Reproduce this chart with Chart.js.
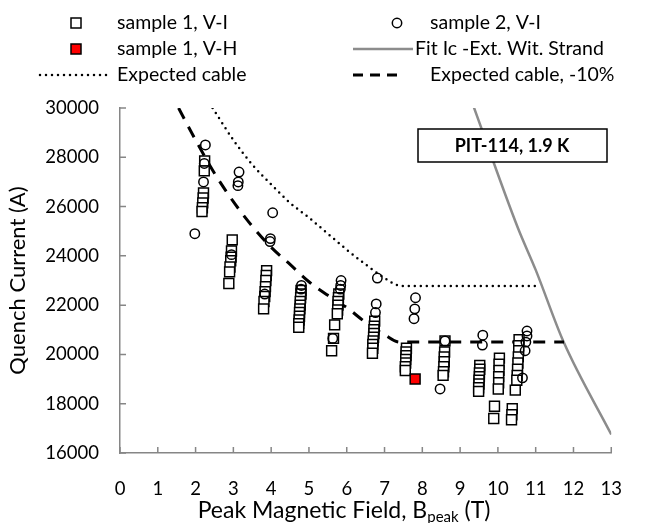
<!DOCTYPE html>
<html>
<head>
<meta charset="utf-8">
<script src="https://cdn.jsdelivr.net/npm/chart.js@4.4.1/dist/chart.umd.min.js"></script>
<style>
  html, body { margin: 0; padding: 0; background: #fff; }
  #wrap { width: 647px; height: 523px; }
</style>
</head>
<body>
<div id="wrap"><canvas id="quench" width="647" height="523"></canvas></div>
<script>
// Quench current vs peak field, PIT-114 at 1.9 K

const xTickValues = [0, 1, 2, 3, 4, 5, 6, 7, 8, 9, 10, 11, 12, 13];
const yTickValues = [16000, 18000, 20000, 22000, 24000, 26000, 28000, 30000];

// sample 1, V-I (open squares)
const s1Field = [
  2.24, 2.23, 2.21, 2.20, 2.19, 2.18, 2.17,
  2.97, 2.95, 2.94, 2.93, 2.91, 2.90, 2.88,
  3.88, 3.87, 3.86, 3.85, 3.84, 3.83, 3.81, 3.80,
  4.79, 4.79, 4.78, 4.77, 4.77, 4.76, 4.75, 4.75, 4.74, 4.73, 4.73,
  5.79, 5.78, 5.77, 5.77, 5.76, 5.75, 5.68, 5.65, 5.60,
  6.74, 6.73, 6.72, 6.72, 6.71, 6.70, 6.69, 6.69, 6.68,
  7.58, 7.57, 7.57, 7.56, 7.56, 7.55, 7.55,
  8.60, 8.59, 8.58, 8.58, 8.57, 8.56, 8.55,
  9.52, 9.52, 9.51, 9.51, 9.50, 9.50, 9.49, 9.49,
  10.04, 10.03, 10.03, 10.02, 10.02, 10.01, 9.91, 9.89,
  10.56, 10.55, 10.55, 10.54, 10.53, 10.52, 10.51, 10.50, 10.46, 10.38, 10.37, 10.36
];
const s1Current = [
  27850, 27450, 26550, 26350, 26150, 25950, 25800,
  24650, 24200, 23950, 23800, 23550, 23350, 22880,
  23400, 23200, 23000, 22750, 22550, 22350, 22150, 21850,
  22600, 22450, 22300, 22150, 22000, 21850, 21700, 21550, 21400, 21250, 21100,
  22450, 22300, 22150, 22000, 21800, 21650, 21200, 20650, 20150,
  21350, 21150, 21000, 20850, 20700, 20550, 20400, 20250, 20050,
  20250, 20100, 19950, 19800, 19650, 19500, 19350,
  20550, 20100, 19900, 19700, 19500, 19300, 19150,
  19550, 19400, 19250, 19100, 18950, 18800, 18650, 18500,
  19850, 19600, 19350, 19100, 18850, 18600, 17900, 17400,
  20600, 20350, 20150, 19900, 19650, 19400, 19150, 18950, 18550, 17800, 17550, 17350
];

// sample 1, V-H (filled red square)
const s1hField = [7.81];
const s1hCurrent = [19000];

// sample 2, V-I (open circles)
const s2Field = [
  2.26, 2.23, 2.21, 1.98,
  3.15, 3.13, 3.12, 2.95,
  4.04, 3.98, 3.97, 3.83,
  4.80, 4.79,
  5.85, 5.84, 5.83, 5.63,
  6.81, 6.78, 6.76,
  7.82, 7.80, 7.78,
  8.60, 8.47,
  9.60, 9.59,
  10.77, 10.77, 10.74, 10.72, 10.65
];
const s2Current = [
  28500, 27750, 27000, 24900,
  27400, 27000, 26850, 24050,
  25750, 24700, 24580, 22450,
  22800, 22650,
  23000, 22800, 22650, 20650,
  23100, 22050, 21700,
  22300, 21850, 21450,
  20550, 18600,
  20780, 20380,
  20950, 20750, 20500, 20150, 19050
];

// Fit Ic - extracted witness strand
const fitField = [9.30, 10.53, 11.00, 11.74, 13.00];
const fitCurrent = [30300, 25130, 23430, 20500, 16750];

// Expected cable
const expField = [2.45, 3.0, 3.5, 4.0, 4.5, 5.0, 5.5, 6.0, 6.5, 7.0, 7.45, 11.1];
const expCurrent = [30000, 28700, 27700, 26900, 26150, 25550, 24900, 24250, 23650, 23100, 22780, 22780];

// Expected cable, -10%
const exp10Field = [1.55, 2.0, 2.5, 3.0, 3.5, 4.0, 4.5, 5.0, 5.5, 6.0, 6.5, 7.0, 7.4, 11.75];
const exp10Current = [30000, 28700, 27350, 26200, 25200, 24350, 23650, 22950, 22400, 21900, 21300, 20800, 20500, 20500];

const FONT = 'Lato, "Open Sans", sans-serif';
const AXIS_GREY = '#868686';

function toPoints(xs, ys) {
  return xs.map((x, i) => ({ x, y: ys[i] }));
}

// ── inward tick marks ─────────────────────────────
const innerTicks = {
  id: 'innerTicks',
  afterDatasetsDraw(chart) {
    const { ctx, chartArea, scales } = chart;
    ctx.save();
    ctx.strokeStyle = AXIS_GREY;
    ctx.lineWidth = 1.5;
    ctx.beginPath();
    xTickValues.forEach(v => {
      const px = scales.x.getPixelForValue(v);
      ctx.moveTo(px, chartArea.bottom);
      ctx.lineTo(px, chartArea.bottom - 6);
    });
    yTickValues.forEach(v => {
      const py = scales.y.getPixelForValue(v);
      ctx.moveTo(chartArea.left, py);
      ctx.lineTo(chartArea.left + 6, py);
    });
    ctx.stroke();
    ctx.restore();
  }
};

// ── legend, x title (with subscript) and annotation box ──
const decorations = {
  id: 'decorations',
  afterDraw(chart) {
    const { ctx } = chart;
    const ds = chart.data.datasets;
    ctx.save();
    ctx.fillStyle = '#000';
    ctx.textBaseline = 'middle';

    const rows = [23, 49, 75];
    const t1 = 117, t2 = 430;

    // sample 1, V-I
    ctx.lineWidth = 1.5;
    ctx.strokeStyle = '#000';
    ctx.fillStyle = '#fff';
    ctx.fillRect(71, rows[0] - 5, 10, 10);
    ctx.strokeRect(71, rows[0] - 5, 10, 10);
    // sample 1, V-H
    ctx.fillStyle = '#ff0000';
    ctx.fillRect(71, rows[1] - 5, 10, 10);
    ctx.strokeRect(71, rows[1] - 5, 10, 10);
    // expected cable (dotted)
    ctx.lineCap = 'round';
    ctx.lineWidth = 2.5;
    ctx.setLineDash([0, 6]);
    ctx.beginPath();
    ctx.moveTo(40, rows[2]);
    ctx.lineTo(112, rows[2]);
    ctx.stroke();
    // sample 2 circle
    ctx.setLineDash([]);
    ctx.lineCap = 'butt';
    ctx.lineWidth = 1.5;
    ctx.beginPath();
    ctx.arc(397, rows[0], 4.7, 0, Math.PI * 2);
    ctx.stroke();
    // fit line
    ctx.strokeStyle = '#8c8c8c';
    ctx.lineWidth = 2.5;
    ctx.beginPath();
    ctx.moveTo(353, rows[1]);
    ctx.lineTo(413, rows[1]);
    ctx.stroke();
    // dashed
    ctx.strokeStyle = '#000';
    ctx.lineWidth = 3;
    ctx.setLineDash([10, 7]);
    ctx.beginPath();
    ctx.moveTo(353, rows[2]);
    ctx.lineTo(397, rows[2]);
    ctx.stroke();
    ctx.setLineDash([]);

    ctx.fillStyle = '#000';
    ctx.font = '19.5px ' + FONT;
    ctx.fillText(ds[1].label, t1, rows[0]);
    ctx.fillText(ds[0].label, t1, rows[1]);
    ctx.fillText(ds[5].label, t1, rows[2]);
    ctx.fillText(ds[2].label, t2, rows[0]);
    ctx.fillText(ds[3].label, 415, rows[1]);
    ctx.fillText(ds[4].label, t2, rows[2]);

    // x axis title with subscript
    const big = '23px ' + FONT, small = '15px ' + FONT;
    const partA = 'Peak Magnetic Field, B', sub = 'peak', partB = ' (T)';
    ctx.font = big;
    const wA = ctx.measureText(partA).width, wB = ctx.measureText(partB).width;
    ctx.font = small;
    const wS = ctx.measureText(sub).width;
    let x = 344 - (wA + wS + wB) / 2;
    const yT = 510;
    ctx.textBaseline = 'alphabetic';
    ctx.font = big;
    ctx.fillText(partA, x, yT + 8);
    x += wA;
    ctx.font = small;
    ctx.fillText(sub, x, yT + 12);
    x += wS;
    ctx.font = big;
    ctx.fillText(partB, x, yT + 8);

    // annotation box
    ctx.fillStyle = '#fff';
    ctx.fillRect(418, 129, 189, 33);
    ctx.strokeStyle = '#000';
    ctx.lineWidth = 1.5;
    ctx.strokeRect(418, 129, 189, 33);
    ctx.fillStyle = '#000';
    ctx.font = 'bold 18px ' + FONT;
    ctx.textAlign = 'center';
    ctx.textBaseline = 'middle';
    ctx.fillText('PIT-114, 1.9 K', 512, 146);
    ctx.restore();
  }
};

const ctx = document.getElementById('quench').getContext('2d');
new Chart(ctx, {
  type: 'scatter',
  data: {
    datasets: [
      {
        label: 'sample 1, V-H',
        data: toPoints(s1hField, s1hCurrent),
        pointStyle: 'rect',
        pointRadius: 7,
        backgroundColor: '#ff0000',
        borderColor: '#000',
        borderWidth: 1.5,
        order: 0
      },
      {
        label: 'sample 1, V-I',
        data: toPoints(s1Field, s1Current),
        pointStyle: 'rect',
        pointRadius: 7,
        backgroundColor: '#fff',
        borderColor: '#000',
        borderWidth: 1.5,
        order: 2
      },
      {
        label: 'sample 2, V-I',
        data: toPoints(s2Field, s2Current),
        pointStyle: 'circle',
        pointRadius: 4.7,
        backgroundColor: 'rgba(255,255,255,0)',
        borderColor: '#000',
        borderWidth: 1.5,
        order: 1
      },
      {
        label: 'Fit Ic -Ext. Wit. Strand',
        data: toPoints(fitField, fitCurrent),
        showLine: true,
        pointRadius: 0,
        borderColor: '#8c8c8c',
        borderWidth: 2.5,
        cubicInterpolationMode: 'monotone',
        order: 5
      },
      {
        label: 'Expected cable, -10%',
        data: toPoints(exp10Field, exp10Current),
        showLine: true,
        pointRadius: 0,
        borderColor: '#000',
        borderWidth: 3,
        borderDash: [12, 9],
        cubicInterpolationMode: 'monotone',
        order: 4
      },
      {
        label: 'Expected cable',
        data: toPoints(expField, expCurrent),
        showLine: true,
        pointRadius: 0,
        borderColor: '#000',
        borderWidth: 2.5,
        borderDash: [0, 6],
        borderCapStyle: 'round',
        cubicInterpolationMode: 'monotone',
        order: 3
      }
    ]
  },
  options: {
    responsive: false,
    animation: false,
    events: [],
    layout: { padding: { left: 0, right: 21, top: 108, bottom: 0 } },
    plugins: {
      legend: { display: false },
      tooltip: { enabled: false }
    },
    scales: {
      x: {
        type: 'linear',
        min: 0,
        max: 13,
        afterBuildTicks: s => { s.ticks = xTickValues.map(v => ({ value: v })); },
        afterFit: s => { s.height = 70; },
        grid: { display: false, drawTicks: false },
        border: { display: true, color: AXIS_GREY, width: 1.5 },
        ticks: {
          color: '#000',
          padding: 25,
          font: { family: FONT, size: 18.5 },
          callback: v => String(v)
        }
      },
      y: {
        type: 'linear',
        min: 16000,
        max: 30000,
        afterBuildTicks: s => { s.ticks = yTickValues.map(v => ({ value: v })); },
        afterFit: s => { s.width = 120; },
        grid: { display: false, drawTicks: false },
        border: { display: true, color: AXIS_GREY, width: 1.5 },
        ticks: {
          color: '#000',
          padding: 21,
          font: { family: FONT, size: 18.5 },
          callback: v => String(v)
        },
        title: {
          display: true,
          text: 'Quench Current (A)',
          color: '#000',
          font: { family: FONT, size: 22 },
          padding: { top: 5, bottom: 0 }
        }
      }
    }
  },
  plugins: [innerTicks, decorations]
});
</script>
</body>
</html>
